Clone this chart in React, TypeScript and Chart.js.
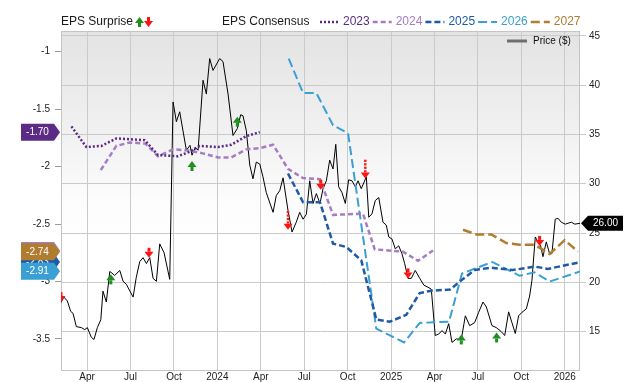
import React, { useEffect, useRef } from "react";
import { Chart, registerables } from "chart.js";

Chart.register(...registerables);

const FONT = '"Liberation Sans", Arial, Helvetica, sans-serif';

// x positions are months since 1 Jan 2023 (3 = Apr 2023, 12 = Jan 2024, 24 = Jan 2025, 36 = Jan 2026)
const xMin = 1.2;
const xMax = 37.05;
const tickMonths = [3, 6, 9, 12, 15, 18, 21, 24, 27, 30, 33, 36];
const tickLabels = ["Apr", "Jul", "Oct", "2024", "Apr", "Jul", "Oct", "2025", "Apr", "Jul", "Oct", "2026"];
const epsTicks = [-3.5, -3, -2.5, -2, -1.5, -1];
const priceTicks = [15, 20, 25, 30, 35, 40, 45];

const priceMonths = [
  1.18, 1.4, 1.64, 1.87, 2.03, 2.26, 2.61, 2.84, 3.02, 3.3, 3.48, 3.71, 3.95, 4.1, 4.33, 4.57, 4.91, 5.26, 5.49, 5.71,
  6.18, 6.4, 6.64, 6.87, 7.1, 7.33, 7.56, 7.79, 8.02, 8.32, 8.71, 8.94, 9.17, 9.4, 9.86, 10.11, 10.25, 10.48, 10.67, 11.01,
  11.24, 11.47, 11.7, 12.16, 12.39, 12.74, 13.08, 13.38, 13.61, 13.77, 14.0, 14.24, 14.46, 14.69, 14.93, 15.15, 15.38, 15.85, 16.07, 16.31,
  16.54, 16.88, 17.16, 17.45, 17.69, 17.92, 18.15, 18.38, 18.61, 18.84, 19.09, 19.3, 19.53, 19.76, 19.99, 20.18, 20.38, 20.61, 20.84, 21.07,
  21.3, 21.53, 21.72, 21.94, 22.29, 22.46, 22.68, 22.91, 23.15, 23.44, 23.67, 23.84, 24.06, 24.29, 24.53, 24.75, 24.94, 25.17, 25.4, 25.67,
  25.98, 26.27, 26.55, 26.78, 27.05, 27.29, 27.52, 27.75, 27.98, 28.21, 28.5, 28.85, 29.13, 29.43, 29.77, 30.05, 30.35, 30.58, 30.97, 31.27,
  31.61, 31.85, 32.12, 32.35, 32.58, 32.81, 33.04, 33.34, 33.57, 33.73, 33.96, 34.15, 34.33, 34.49, 34.72, 34.95, 35.11, 35.34, 35.53, 35.76,
  36.03, 36.45, 36.69, 37.1,
];
const priceValues = [
  17.9, 18.5, 18.1, 17.05, 16.85, 15.5, 15.4, 15.2, 15.4, 14.4, 14.2, 15.4, 16.2, 19.1, 18.0, 21.1, 20.7, 21.2, 20.1, 19.8,
  18.5, 20.5, 22.1, 22.5, 21.9, 22.5, 20.4, 20.1, 23.9, 23.0, 20.3, 38.3, 36.3, 37.3, 33.4, 33.9, 32.9, 33.7, 33.4, 40.5,
  39.1, 42.7, 41.5, 42.7, 42.4, 39.1, 34.9, 35.6, 37.0, 36.9, 35.4, 31.9, 30.5, 32.2, 32.0, 30.7, 29.1, 27.1, 28.8, 29.3,
  30.6, 27.3, 25.1, 26.1, 27.1, 26.4, 26.9, 30.3, 28.0, 29.0, 28.0, 29.5, 30.3, 32.4, 31.5, 34.0, 29.7, 29.1, 28.0, 30.4,
  30.3, 29.7, 30.3, 29.5, 30.7, 26.6, 26.95, 28.3, 28.6, 26.1, 25.8, 24.6, 24.4, 23.4, 23.7, 22.9, 21.9, 20.4, 20.4, 21.2,
  20.4, 19.7, 19.5, 19.3, 14.6, 14.75, 15.1, 14.75, 15.8, 13.9, 14.25, 14.2, 16.6, 15.6, 15.9, 16.95, 18.0, 17.5, 15.6, 15.4,
  15.0, 14.6, 17.0, 15.9, 14.8, 16.6, 16.95, 17.3, 18.6, 20.2, 24.6, 24.1, 23.7, 22.6, 24.1, 22.9, 22.9, 26.4, 26.5, 26.1,
  25.9, 26.1, 25.9, 26.0,
];

const cons2023Months = [1.92, 2.95, 3.99, 5.02, 6.98, 7.9, 9.28, 10.11, 10.78, 12.05, 12.97, 14.0, 14.93];
const cons2023Values = [-1.65, -1.83, -1.82, -1.755, -1.77, -1.9, -1.91, -1.87, -1.82, -1.83, -1.81, -1.735, -1.7];

const cons2024Months = [3.95, 5.02, 5.95, 7.03, 7.9, 8.94, 10.0, 11.0, 12.05, 12.97, 14.0, 14.93, 15.85, 16.88, 17.92, 19.09, 19.99, 22.06, 22.87, 24.82, 25.86, 26.9];
const cons2024Values = [-2.03, -1.82, -1.79, -1.8, -1.91, -1.85, -1.86, -1.885, -1.92, -1.92, -1.85, -1.84, -1.81, -2.02, -2.1, -2.11, -2.42, -2.41, -2.72, -2.74, -2.82, -2.73];

const cons2025Months = [16.88, 17.92, 19.09, 19.99, 20.91, 21.94, 22.98, 23.91, 25.05, 25.98, 26.78, 28.07, 28.85, 29.77, 30.92, 32.42, 33.92, 34.84, 37.13];
const cons2025Values = [-2.06, -2.31, -2.31, -2.67, -2.7, -2.815, -3.33, -3.35, -3.29, -3.1, -3.08, -3.07, -2.99, -2.9, -2.88, -2.9, -2.87, -2.89, -2.83];

const cons2026Months = [16.93, 17.92, 18.84, 19.99, 21.03, 22.98, 24.9, 25.98, 28.0, 28.9, 31.0, 32.88, 33.9, 34.95, 37.13];
const cons2026Values = [-1.06, -1.36, -1.36, -1.64, -1.71, -3.41, -3.53, -3.36, -3.35, -2.93, -2.83, -2.95, -2.92, -3.0, -2.91];

const cons2027Months = [28.97, 29.89, 30.92, 31.96, 32.88, 33.92, 34.95, 35.99, 36.91];
const cons2027Values = [-2.55, -2.59, -2.59, -2.665, -2.68, -2.68, -2.76, -2.64, -2.74];

// EPS surprise arrows, placed on the price scale
const surpriseMonths = [1.2, 4.64, 7.28, 10.25, 13.38, 16.88, 19.14, 22.22, 25.17, 28.85, 31.29, 34.26];
const surprisePrices = [18.6, 20.2, 23.1, 31.7, 36.2, 25.95, 30.0, 31.15, 21.0, 14.1, 14.3, 24.3];
const surpriseDirs = ["down", "up", "down", "up", "up", "down", "down", "down", "down", "up", "up", "down"];
const surpriseLong = [false, false, false, false, false, true, false, true, false, false, false, false];

const series = [
  { label: "2023", months: cons2023Months, values: cons2023Values, color: "#5c2b86", dash: [2, 2], width: 2.5 },
  { label: "2024", months: cons2024Months, values: cons2024Values, color: "#a67cc5", dash: [5, 3], width: 2.5 },
  { label: "2025", months: cons2025Months, values: cons2025Values, color: "#1f5aa8", dash: [6, 3], width: 2.5 },
  { label: "2026", months: cons2026Months, values: cons2026Values, color: "#3a9fd2", dash: [9, 4], width: 2 },
  { label: "2027", months: cons2027Months, values: cons2027Values, color: "#b07c30", dash: [9, 4], width: 2.5 },
];

const GREEN = "#1f8f1f";
const RED = "#ff1414";

function drawArrow(ctx: CanvasRenderingContext2D, cx: number, cy: number, dir: string, long: boolean) {
  const s = dir === "up" ? -1 : 1;
  ctx.save();
  ctx.fillStyle = dir === "up" ? GREEN : RED;
  ctx.beginPath();
  ctx.moveTo(cx - 4.5, cy);
  ctx.lineTo(cx + 4.5, cy);
  ctx.lineTo(cx, cy + s * 6);
  ctx.closePath();
  ctx.fill();
  if (long) {
    for (let i = 0; i < 4; i++) {
      const y0 = cy - s * (i * 3.5);
      ctx.fillRect(cx - 1.25, s > 0 ? y0 - 2.2 : y0, 2.5, 2.2);
    }
  } else {
    ctx.fillRect(cx - 1.5, s > 0 ? cy - 4 : cy, 3, 4);
  }
  ctx.restore();
}

function leftTag(ctx: CanvasRenderingContext2D, y: number, text: string, color: string) {
  const h = 17;
  ctx.save();
  ctx.fillStyle = color;
  ctx.beginPath();
  ctx.moveTo(21, y - h / 2);
  ctx.lineTo(54, y - h / 2);
  ctx.lineTo(60, y);
  ctx.lineTo(54, y + h / 2);
  ctx.lineTo(21, y + h / 2);
  ctx.closePath();
  ctx.fill();
  ctx.fillStyle = "#ffffff";
  ctx.font = `10px ${FONT}`;
  ctx.textAlign = "center";
  ctx.textBaseline = "middle";
  ctx.fillText(text, 37.5, y + 0.5);
  ctx.restore();
}

const decorPlugin = {
  id: "decor",
  beforeDraw(chart: any) {
    const { ctx, chartArea: a } = chart;
    ctx.save();
    ctx.fillStyle = "#ffffff";
    ctx.fillRect(0, 0, chart.width, chart.height);
    const g = ctx.createLinearGradient(0, a.top, 0, a.bottom);
    g.addColorStop(0, "#e3e3e3");
    g.addColorStop(0.3, "#f1f1f1");
    g.addColorStop(0.5, "#fcfcfc");
    g.addColorStop(0.62, "#ffffff");
    g.addColorStop(1, "#ffffff");
    ctx.fillStyle = g;
    ctx.fillRect(a.left, a.top, a.right - a.left, a.bottom - a.top);
    ctx.restore();
  },
  beforeDatasetsDraw(chart: any) {
    const { ctx, chartArea: a } = chart;
    ctx.save();
    ctx.strokeStyle = "#c4c4c4";
    ctx.lineWidth = 1;
    ctx.strokeRect(a.left + 0.5, a.top + 0.5, a.right - a.left - 1, a.bottom - a.top);
    ctx.restore();
  },
  afterDraw(chart: any) {
    const { ctx, chartArea: a, scales } = chart;
    const xs = scales.x;
    const ys = scales.y;
    const ps = scales.y1;

    // surprise arrows
    ctx.save();
    ctx.beginPath();
    ctx.rect(a.left, a.top, a.right - a.left, a.bottom - a.top);
    ctx.clip();
    surpriseMonths.forEach((m, i) => {
      drawArrow(ctx, xs.getPixelForValue(m), ps.getPixelForValue(surprisePrices[i]), surpriseDirs[i], surpriseLong[i]);
    });
    ctx.restore();

    // legend row
    ctx.save();
    ctx.font = `12px ${FONT}`;
    ctx.textBaseline = "middle";
    ctx.textAlign = "left";
    const ly = 22;
    ctx.fillStyle = "#1a1a1a";
    ctx.fillText("EPS Surprise", 61, ly);
    drawArrow(ctx, 139.5, ly + 1, "up", false);
    drawArrow(ctx, 148.5, ly - 1, "down", false);
    ctx.fillStyle = "#1a1a1a";
    ctx.fillText("EPS Consensus", 222, ly);
    let x = 320;
    series.forEach((s) => {
      ctx.strokeStyle = s.color;
      ctx.lineWidth = s.width;
      ctx.setLineDash(s.dash);
      ctx.beginPath();
      ctx.moveTo(x, ly);
      ctx.lineTo(x + 19, ly);
      ctx.stroke();
      ctx.setLineDash([]);
      ctx.fillStyle = s.color;
      ctx.fillText(s.label, x + 23, ly);
      x = x + 23 + ctx.measureText(s.label).width + 3;
    });

    // price legend
    ctx.strokeStyle = "#6e6e6e";
    ctx.lineWidth = 3;
    ctx.beginPath();
    ctx.moveTo(507, 41);
    ctx.lineTo(527, 41);
    ctx.stroke();
    ctx.font = `10px ${FONT}`;
    ctx.fillStyle = "#111111";
    ctx.fillText("Price ($)", 533, 41);
    ctx.restore();

    // left value tags (last consensus values)
    const order = [0, 1, 2, 4, 3];
    order.forEach((k) => {
      const s = series[k];
      const v = s.values[s.values.length - 1];
      leftTag(ctx, ys.getPixelForValue(v), v.toFixed(2), s.color);
    });

    // right price tag
    const lastP = priceValues[priceValues.length - 1];
    const py = ps.getPixelForValue(lastP);
    ctx.save();
    ctx.fillStyle = "#000000";
    ctx.beginPath();
    ctx.moveTo(581, py);
    ctx.lineTo(588, py - 7.5);
    ctx.lineTo(623, py - 7.5);
    ctx.lineTo(623, py + 7.5);
    ctx.lineTo(588, py + 7.5);
    ctx.closePath();
    ctx.fill();
    ctx.fillStyle = "#ffffff";
    ctx.font = `10px ${FONT}`;
    ctx.textAlign = "center";
    ctx.textBaseline = "middle";
    ctx.fillText(lastP.toFixed(2), 605.5, py + 0.5);
    ctx.restore();
  },
};

export default function App() {
  const ref = useRef<HTMLCanvasElement>(null);
  useEffect(() => {
    document.body.style.margin = "0";
    const datasets: any[] = series.map((s) => ({
      label: s.label,
      data: s.months.map((m, i) => ({ x: m, y: s.values[i] })),
      borderColor: s.color,
      borderWidth: s.width,
      borderDash: s.dash,
      pointRadius: 0,
      tension: 0,
      fill: false,
      yAxisID: "y",
    }));
    datasets.push({
      label: "Price ($)",
      data: priceMonths.map((m, i) => ({ x: m, y: priceValues[i] })),
      borderColor: "#000000",
      borderWidth: 1,
      pointRadius: 0,
      tension: 0,
      fill: false,
      yAxisID: "y1",
    });
    const chart = new Chart(ref.current as HTMLCanvasElement, {
      type: "line",
      data: { datasets },
      plugins: [decorPlugin],
      options: {
        responsive: false,
        animation: false,
        events: [],
        layout: { padding: { top: 31, left: 0, right: 0, bottom: 0 } },
        plugins: { legend: { display: false }, tooltip: { enabled: false } },
        scales: {
          x: {
            type: "linear",
            min: xMin,
            max: xMax,
            afterBuildTicks: (s: any) => {
              s.ticks = tickMonths.map((v) => ({ value: v }));
            },
            afterFit: (s: any) => {
              s.height = 12;
            },
            ticks: {
              autoSkip: false,
              maxRotation: 0,
              padding: 1,
              color: "#222",
              font: { family: FONT, size: 10 },
              callback: (_v: any, i: number) => tickLabels[i],
            },
            grid: { color: "#cacaca", drawTicks: false, lineWidth: 1 },
            border: { display: false },
          },
          y: {
            type: "linear",
            position: "left",
            min: -3.77,
            max: -0.82,
            afterBuildTicks: (s: any) => {
              s.ticks = epsTicks.map((v) => ({ value: v }));
            },
            afterFit: (s: any) => {
              s.width = 61;
            },
            ticks: {
              padding: 5,
              color: "#222",
              font: { family: FONT, size: 10 },
              callback: (v: any) => String(v),
            },
            grid: { drawOnChartArea: false, drawTicks: true, tickLength: 6, color: "#9a9a9a" },
            border: { display: false },
          },
          y1: {
            type: "linear",
            position: "right",
            min: 11.1,
            max: 45.5,
            afterBuildTicks: (s: any) => {
              s.ticks = priceTicks.map((v) => ({ value: v }));
            },
            afterFit: (s: any) => {
              s.width = 60;
            },
            ticks: {
              padding: 3,
              color: "#222",
              font: { family: FONT, size: 10 },
              callback: (v: any) => String(v),
            },
            grid: { drawOnChartArea: true, drawTicks: true, tickLength: 6, color: "#cacaca" },
            border: { display: false },
          },
        },
      },
    } as any);
    return () => chart.destroy();
  }, []);
  return <canvas ref={ref} width={640} height={382} style={{ display: "block", width: 640, height: 382 }} />;
}
